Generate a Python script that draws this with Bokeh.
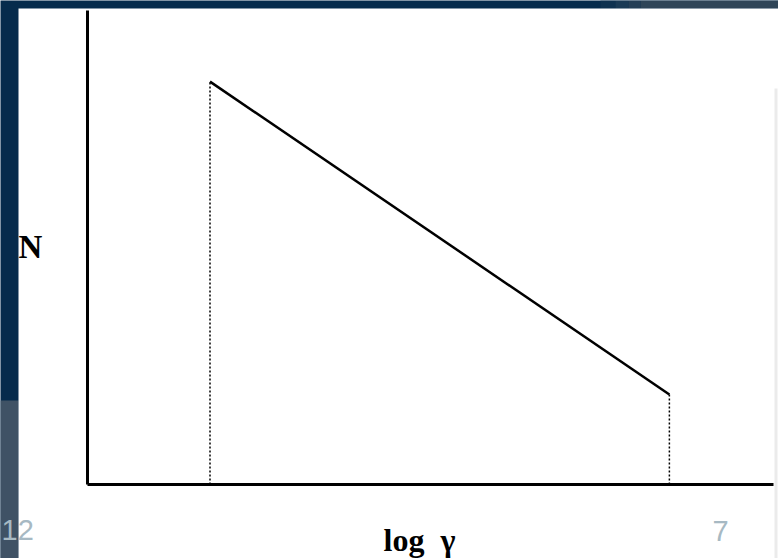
from bokeh.plotting import figure
from bokeh.models import BoxAnnotation, Label, Range1d, FixedTicker
from bokeh.embed import file_html
from bokeh.resources import INLINE

# Electron energy spectrum: power law N(gamma) between gamma_min and gamma_max
log_gamma = [2.0, 9.5]       # log gamma_min, log gamma_max
log_n = [8.5, 1.9]           # log N at the two cut-offs
x_extent = [0.0, 11.2]       # drawn length of the log gamma axis
y_extent = [0.0, 10.0]       # drawn length of the N axis
x_title = "log\u00a0\u00a0\u03b3"
y_title = "N"
page_numbers = ["12", "7"]

W, H = 778, 558
# pixel placement of the plot's axes on the slide
AX_LEFT, AX_RIGHT, AX_TOP, AX_BOTTOM = 87, 773, 10, 484

NAVY = "#062b4c"
SLATE = "#3f5265"
STEEL = "#2f4558"

# ranges chosen so the whole canvas is the frame and the axes sit at AX_*
kx = (AX_RIGHT - AX_LEFT) / (x_extent[1] - x_extent[0])
ky = (AX_BOTTOM - AX_TOP) / (y_extent[1] - y_extent[0])
x_range = Range1d(x_extent[0] - AX_LEFT / kx, x_extent[1] + (W - AX_RIGHT) / kx)
y_range = Range1d(y_extent[0] - (H - AX_BOTTOM) / ky, y_extent[1] + AX_TOP / ky)

p = figure(width=W, height=H, output_backend="svg", toolbar_location=None,
           x_range=x_range, y_range=y_range, min_border=0)
p.background_fill_color = NAVY
p.border_fill_color = NAVY
p.outline_line_color = None
p.grid.visible = False

for ax in (p.xaxis, p.yaxis):
    ax.fixed_location = 0
    ax.ticker = FixedTicker(ticks=[])
    ax.axis_line_width = 3
    ax.axis_line_color = "black"
    ax.major_tick_line_color = None
    ax.minor_tick_line_color = None
    ax.major_label_text_font_size = "0px"
p.xaxis.bounds = tuple(x_extent)
p.yaxis.bounds = tuple(y_extent)

# slide backdrop pieces (canvas pixels)
def box(l, r, t, b, color):
    p.add_layout(BoxAnnotation(left=l, right=r, top=t, bottom=b,
                               left_units="canvas", right_units="canvas",
                               top_units="canvas", bottom_units="canvas",
                               fill_color=color, fill_alpha=1.0,
                               line_color=None, level="underlay"))

box(600, 615, 0, 8, "#0f3250")
box(615, 628, 0, 8, "#1a3a55")
box(628, 640, 0, 8, "#253f56")
box(640, 778, 0, 8, STEEL)
box(0, 18, 400, 558, SLATE)
box(18, 778, 8, 558, "white")
box(774, 777, 88, 558, "#ebebeb")

# cut-off markers and the power-law segment
p.segment(x0=log_gamma, y0=[0, 0], x1=log_gamma, y1=log_n,
          line_color="black", line_width=1.5, line_dash="2 2")
p.line(log_gamma, log_n, line_color="black", line_width=2.5)

def label(x, y, text, font, size, color, bold=False):
    p.add_layout(Label(x=x, y=y, x_units="canvas", y_units="canvas", text=text,
                       text_font=font, text_font_size=size, text_color=color,
                       text_font_style="bold" if bold else "normal",
                       text_align="left", text_baseline="alphabetic"))

label(18, 246, y_title, "Liberation Serif", "33px", "black", bold=True)
label(383, 539, x_title, "Liberation Serif", "32px", "black", bold=True)
label(1, 529, page_numbers[0], "Liberation Sans", "29px", "#a7b9c3")
label(712, 530, page_numbers[1], "Liberation Sans", "29px", "#a7b9c3")

open("out.html", "w").write(file_html(p, INLINE))
